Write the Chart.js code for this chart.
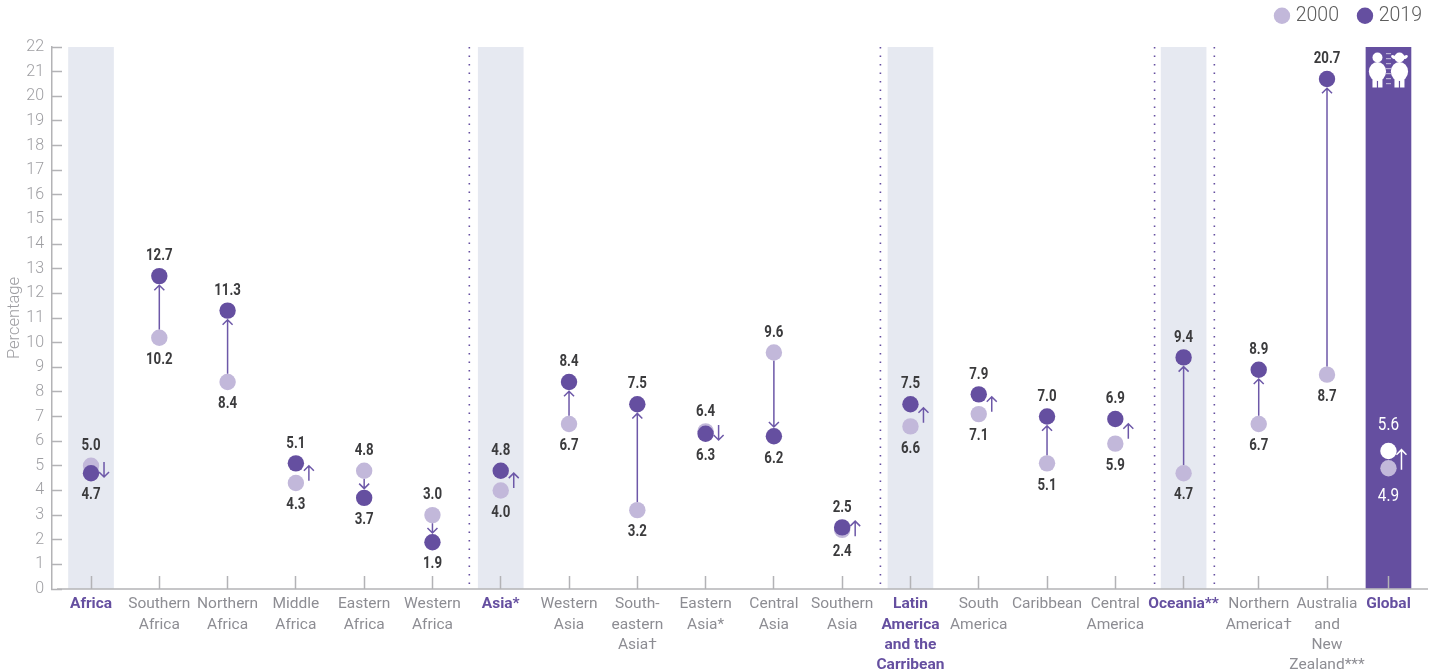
<!DOCTYPE html>
<html>
<head>
<meta charset="utf-8">
<title>Overweight children by region</title>
<script src="https://cdn.jsdelivr.net/npm/chart.js@4/dist/chart.umd.min.js"></script>
<style>
  html, body { margin:0; padding:0; background:#fff; overflow:hidden; }
  #box { position:relative; width:1436px; height:671px; }
</style>
</head>
<body>
<div id="box"><canvas id="chart" width="1436" height="671"></canvas></div>
<script>
const categories = [
  ["Africa"], ["Southern","Africa"], ["Northern","Africa"], ["Middle","Africa"], ["Eastern","Africa"], ["Western","Africa"],
  ["Asia*"], ["Western","Asia"], ["South-","eastern","Asia†"], ["Eastern","Asia*"], ["Central","Asia"], ["Southern","Asia"],
  ["Latin","America","and the","Carribean"], ["South","America"], ["Caribbean"], ["Central","America"],
  ["Oceania**"], ["Northern","America†"], ["Australia","and","New","Zealand***"], ["Global"]
];
const values2000 = [5.0,10.2,8.4,4.3,4.8,3.0, 4.0,6.7,3.2,6.4,9.6,2.4, 6.6,7.1,5.1,5.9, 4.7,6.7,8.7, 4.9];
const values2019 = [4.7,12.7,11.3,5.1,3.7,1.9, 4.8,8.4,7.5,6.3,6.2,2.5, 7.5,7.9,7.0,6.9, 9.4,8.9,20.7, 5.6];
const regionNames = ["Africa","Asia*","Latin","Oceania**","Global"];
const yTicks = [0,1,2,3,4,5,6,7,8,9,10,11,12,13,14,15,16,17,18,19,20,21,22];

// where each column and divider sits on the x scale (the last three columns are not evenly spaced)
const slots = [0,1,2,3,4,5,6,7,8,9,10,11,12,13,14,15,16,17.1,18.1,19];
const dividers = [5.54,11.56,15.575,16.45];

const PURPLE = "#654fa0", LILAC = "#c2b8da", BAND = "#e6e9f1", GREY = "#8d8d93";
const GLOBAL = categories.length - 1;
const DOT = 8.2;

function isRegion(i){ return !!categories[i] && regionNames.includes(categories[i][0]); }

function arrow(ctx, x, y1, y2, color){
  const dir = y2 < y1 ? 1 : -1;
  ctx.strokeStyle = color;
  ctx.lineWidth = 1.5;
  ctx.beginPath();
  ctx.moveTo(x, y1); ctx.lineTo(x, y2);
  ctx.moveTo(x-5, y2+dir*5); ctx.lineTo(x, y2); ctx.lineTo(x+5, y2+dir*5);
  ctx.stroke();
}

// no condensed face is installed, so squeeze the value labels sideways
function narrowText(ctx, text, x, y, squeeze){
  ctx.save();
  ctx.translate(x, y);
  ctx.scale(squeeze, 1);
  ctx.fillText(text, 0, 0);
  ctx.restore();
}

function drawKids(ctx, cx, top){
  ctx.fillStyle = "#fff";
  [-11, 11].forEach(dx=>{
    const x = cx + dx;
    ctx.beginPath(); ctx.arc(x, top+10.5, 5, 0, 7); ctx.fill();
    ctx.beginPath(); ctx.ellipse(x, top+24.5, 8.6, 9.5, 0, 0, 7); ctx.fill();
    ctx.fillRect(x-5, top+30, 4.4, 10.5);
    ctx.fillRect(x+0.6, top+30, 4.4, 10.5);
  });
  // pigtails
  ctx.beginPath(); ctx.ellipse(cx+5, top+10, 2.6, 1.6, 0.5, 0, 7); ctx.fill();
  ctx.beginPath(); ctx.ellipse(cx+17, top+10, 2.6, 1.6, -0.5, 0, 7); ctx.fill();
  // ruler between them
  ctx.fillStyle = "rgba(255,255,255,.55)";
  for(let y = top+6; y < top+41; y += 5) ctx.fillRect(cx-2.5, y, 5, 1.2);
}

const overlay = {
  id:"overlay",
  beforeLayout(chart){
    // legend keeps its place at the top but reserves the whole strip above the plot
    const lg = chart.legend;
    if(lg && !lg.pinned){
      const fit = lg.fit;
      lg.fit = function(){ fit.call(this); this.height = 63; };
      lg.pinned = true;
    }
  },
  beforeDatasetsDraw(chart){
    const {ctx, scales:{x,y}} = chart;
    ctx.save();
    ctx.strokeStyle = PURPLE;
    ctx.lineWidth = 1.6;
    ctx.setLineDash([1.6,6.9]);
    dividers.forEach(d=>{
      const px = x.getPixelForValue(d);
      ctx.beginPath(); ctx.moveTo(px, y.getPixelForValue(22)); ctx.lineTo(px, y.getPixelForValue(0)); ctx.stroke();
    });
    ctx.restore();
  },
  afterDatasetsDraw(chart){
    const {ctx, scales:{x,y}} = chart;
    ctx.save();
    // x axis line starts a little right of the y axis
    ctx.strokeStyle = "#b3b3b6";
    ctx.lineWidth = 1.5;
    ctx.beginPath(); ctx.moveTo(57, y.getPixelForValue(0)); ctx.lineTo(1428, y.getPixelForValue(0)); ctx.stroke();

    ctx.textAlign = "center";
    ctx.textBaseline = "middle";
    categories.forEach((c,i)=>{
      const a = values2000[i], b = values2019[i];
      const px = x.getPixelForValue(slots[i]);
      const ya = y.getPixelForValue(a), yb = y.getPixelForValue(b);
      const col = i === GLOBAL ? "#fff" : "#6d58a8";
      const dir = yb < ya ? -1 : 1;
      if(Math.abs(a-b) <= 1){
        const mid = (ya+yb)/2, half = i === GLOBAL ? 10 : 7.5;
        arrow(ctx, px+13, mid-dir*half, mid+dir*half, col);
      } else {
        arrow(ctx, px, ya+dir*DOT, yb-dir*(DOT+1), col);
      }
      // higher value reads above its dot, lower value below
      const gap = i === GLOBAL ? 27 : 21;
      const squeeze = i === GLOBAL ? 0.85 : 0.78;
      ctx.fillStyle = i === GLOBAL ? "#fff" : "#3b3b3d";
      ctx.font = (i === GLOBAL ? "18px " : "bold 17px ") + "Roboto";
      narrowText(ctx, a.toFixed(1), px, ya + 1 + (a > b ? -gap : gap), squeeze);
      narrowText(ctx, b.toFixed(1), px, yb + 1 + (a > b ? gap : -gap), squeeze);
    });
    drawKids(ctx, x.getPixelForValue(slots[GLOBAL]), y.getPixelForValue(22));
    ctx.restore();
  }
};

new Chart(document.getElementById("chart"), {
  type:"bar",
  data:{
    datasets:[
      { type:"scatter", label:"2000", order:2, backgroundColor:LILAC, pointStyle:"circle", pointRadius:DOT, pointBorderWidth:0,
        data: values2000.map((v,i)=>({x:slots[i], y:v})) },
      { type:"scatter", label:"2019", order:1, backgroundColor:PURPLE, pointStyle:"circle", pointRadius:DOT, pointBorderWidth:0,
        pointBackgroundColor: categories.map((c,i)=> i === GLOBAL ? "#fff" : PURPLE),
        data: values2019.map((v,i)=>({x:slots[i], y:v})) },
      { type:"bar", label:"bands", order:3, barThickness:45,
        backgroundColor: categories.map((c,i)=> i === GLOBAL ? PURPLE : BAND).filter((c,i)=>isRegion(i)),
        data: categories.map((c,i)=>({x:slots[i], y:22})).filter((p,i)=>isRegion(i)) }
    ]
  },
  options:{
    responsive:false,
    animation:false,
    layout:{ padding:{ top:-16, left:0, right:-8, bottom:0 } },
    plugins:{
      tooltip:{ enabled:false },
      legend:{
        position:"top", align:"end",
        labels:{
          usePointStyle:true, boxWidth:8, boxHeight:11.6, padding:22,
          color:"#5c5c5c", font:{ family:"Roboto", weight:"300", size:19.5 },
          filter:item=>item.text !== "bands",
          sort:(a,b)=>a.datasetIndex-b.datasetIndex
        }
      }
    },
    scales:{
      x:{
        type:"linear", min:-0.5714, max:19.576, offset:false,
        afterBuildTicks:s=>{ s.ticks = slots.map(v=>({value:v})); },
        afterFit:s=>{ s.height = 82; },
        border:{ display:false },
        grid:{ offset:false, drawOnChartArea:false, tickLength:-13, tickColor:"#b3b3b6", tickWidth:1.5, z:1 },
        ticks:{
          autoSkip:false, maxRotation:0, padding:18,
          callback:(v,i)=>categories[i],
          color:c=> isRegion(c.index) ? PURPLE : GREY,
          font:c=>({ family:"Roboto", size:15.5, weight: isRegion(c.index) ? "bold" : "normal", lineHeight:1.32 })
        }
      },
      y:{
        min:0, max:22,
        afterBuildTicks:s=>{ s.ticks = yTicks.map(v=>({value:v})); },
        afterFit:s=>{ s.width = 52; },
        border:{ color:"#b3b3b6", width:1.5 },
        grid:{ drawOnChartArea:false, tickLength:-10, tickColor:"#b3b3b6", tickWidth:1.5 },
        ticks:{ padding:18, color:"#9e9ea2", font:{ family:"Roboto", weight:"300", size:16 } },
        title:{ display:true, text:"Percentage", color:"#9e9ea2", padding:{ top:5, bottom:0 },
          font:{ family:"Roboto", weight:"300", size:16.5 } }
      }
    }
  },
  plugins:[overlay]
});
</script>
</body>
</html>
